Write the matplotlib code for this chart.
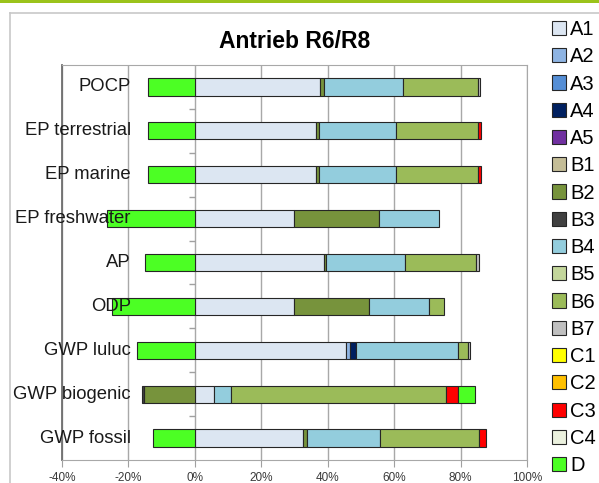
import numpy as np
import matplotlib.pyplot as plt
from matplotlib.patches import Patch, Rectangle
from matplotlib.lines import Line2D

plt.rcParams['font.family'] = ['Liberation Sans', 'DejaVu Sans']

# Kategorien (von oben nach unten)
categories = ['POCP', 'EP terrestrial', 'EP marine', 'EP freshwater', 'AP',
              'ODP', 'GWP luluc', 'GWP biogenic', 'GWP fossil']

# Anteile je Modul in %
A1 = [37.8, 36.4, 36.5, 29.7, 38.8, 29.7, 45.6, 5.8, 32.6]
A2 = [0, 0, 0, 0, 0, 0, 1.0, 0, 0]
A3 = [0, 0, 0, 0, 0, 0, 0, 0, 0]
A4 = [0, 0, 0, 0, 0, 0, 1.9, 0, 0]
A5 = [0, 0, 0, 0, 0, 0, 0, 0, 0]
B1 = [0, 0, 0, 0, 0, 0, 0, 0, 0]
B2 = [1.0, 0.9, 0.9, 25.8, 0.8, 22.8, 0, -15.2, 1.2]
B3 = [0, 0, 0, 0, 0, 0, 0, -0.6, 0]
B4 = [23.8, 23.2, 23.1, 18.1, 23.6, 18.0, 30.7, 5.1, 21.9]
B5 = [0, 0, 0, 0, 0, 0, 0, 0, 0]
B6 = [22.5, 24.7, 24.7, 0, 21.5, 4.6, 3.0, 64.6, 29.7]
B7 = [0.8, 0, 0, 0, 0.7, 0, 0.7, 0, 0]
C1 = [0, 0, 0, 0, 0, 0, 0, 0, 0]
C2 = [0, 0, 0, 0, 0, 0, 0, 0, 0]
C3 = [0, 1.0, 0.8, 0, 0, 0, 0, 3.7, 2.2]
C4 = [0, 0, 0, 0, 0, 0, 0, 0, 0]
D = [-14.1, -14.1, -14.1, -26.6, -15.1, -25.0, -17.5, 5.2, -12.5]

series_names = ['A1', 'A2', 'A3', 'A4', 'A5', 'B1', 'B2', 'B3', 'B4', 'B5',
                'B6', 'B7', 'C1', 'C2', 'C3', 'C4', 'D']
series_values = [A1, A2, A3, A4, A5, B1, B2, B3, B4, B5, B6, B7, C1, C2, C3, C4, D]
colors = ['#DCE6F2', '#8EB4E3', '#558ED5', '#002060', '#7030A0', '#C4BD97',
          '#77933C', '#404040', '#93CDDD', '#C3D69B', '#9BBB59', '#BFBFBF',
          '#FFFF00', '#FFC000', '#FF0000', '#EBF1DE', '#4CFF24']

fig = plt.figure(figsize=(5.99, 4.83), dpi=100)

# gruener Balken oben und grauer Rahmen
fig.add_artist(Rectangle((0, 1 - 3 / 483), 1, 3 / 483, transform=fig.transFigure,
                         color='#9BC31B', lw=0))
fig.add_artist(Line2D([9.5 / 599, 9.5 / 599], [0, 1 - 12.5 / 483],
                      transform=fig.transFigure, color='#C8C8C8', lw=1.2))
fig.add_artist(Line2D([9.5 / 599, 1], [1 - 12.5 / 483, 1 - 12.5 / 483],
                      transform=fig.transFigure, color='#C8C8C8', lw=1.2))

ax = fig.add_axes([62 / 599, 1 - 460 / 483, 465 / 599, 395 / 483])

y = np.arange(len(categories))
pos_left = np.zeros(len(categories))
neg_left = np.zeros(len(categories))
for name, vals, col in zip(series_names, series_values, colors):
    vals = np.array(vals, dtype=float)
    left = np.where(vals >= 0, pos_left, neg_left)
    idx = vals != 0
    if idx.any():
        ax.barh(y[idx], vals[idx], left=left[idx], height=0.39, color=col,
                edgecolor='#262626', linewidth=0.8, zorder=3)
    pos_left += np.where(vals > 0, vals, 0)
    neg_left += np.where(vals < 0, vals, 0)

ax.set_xlim(-40, 100)
ax.set_ylim(len(categories) - 0.5, -0.5)
ax.set_xticks(np.arange(-40, 101, 20))
ax.set_xticklabels([f'{v}%' for v in range(-40, 101, 20)], fontsize=8.5, color='#3a3a3a')
ax.tick_params(axis='x', length=5, color='#A0A0A0', pad=3.5)
ax.set_yticks([])
ax.grid(axis='x', color='#A8A8A8', lw=1, zorder=0)

for side in ['top', 'right', 'bottom']:
    ax.spines[side].set_color('#A8A8A8')
ax.spines['left'].set_color('#6E6E6E')
ax.spines['left'].set_linewidth(1.3)

# kleine Teilstriche an der 0%-Achse
ax.hlines(np.arange(len(categories) - 1) + 0.5, -1.8, 0, color='#A0A0A0', lw=1, zorder=2)

for yi, cat in zip(y, categories):
    ax.text(-19.3, yi, cat, ha='right', va='center', fontsize=13.3,
            color='#1A1A1A', zorder=5)

ax.set_title('Antrieb R6/R8', fontsize=16.5, fontweight='bold', pad=12)

handles = [Patch(facecolor=c, edgecolor='#262626', linewidth=0.8) for c in colors]
fig.legend(handles, series_names, loc='upper left', bbox_to_anchor=(552 / 599, 1 - 20 / 483),
           frameon=False, fontsize=14.5, handlelength=0.7, handleheight=0.7,
           handletextpad=0.2, labelspacing=0.41, borderpad=0, borderaxespad=0)

plt.savefig('out.png', dpi=100)
